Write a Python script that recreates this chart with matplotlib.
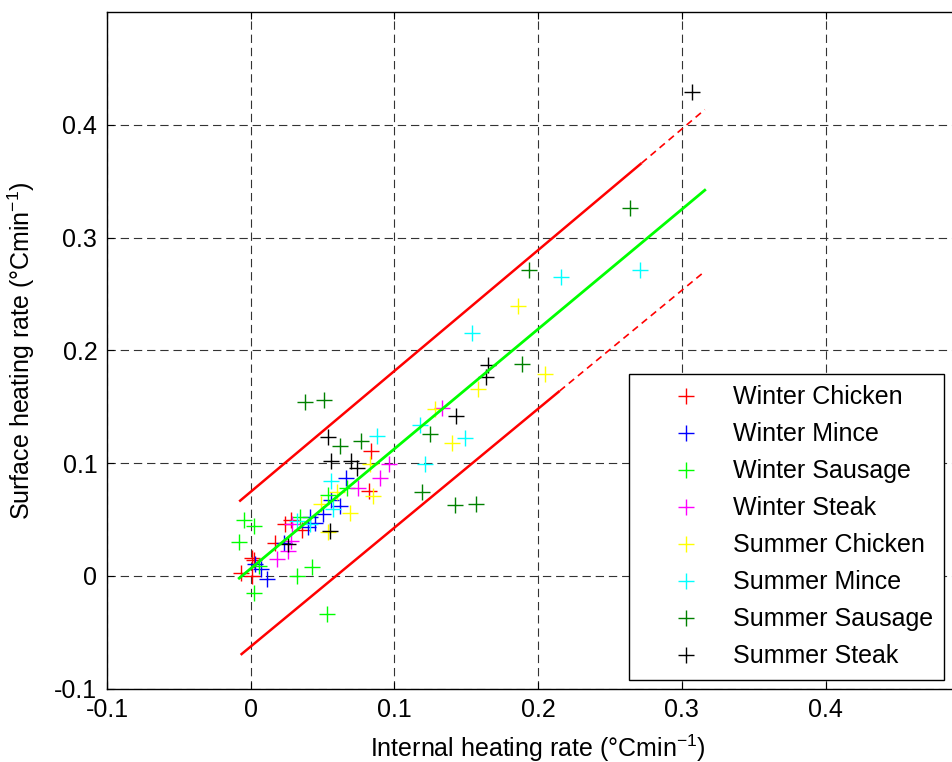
# heating rate scatter: surface vs internal, with regression line and bounds

import matplotlib
matplotlib.use('Agg')
import matplotlib.pyplot as plt

plt.rcParams['font.family'] = ['Liberation Sans', 'DejaVu Sans']
plt.rcParams['font.size'] = 18
plt.rcParams['axes.unicode_minus'] = False
plt.rcParams['mathtext.default'] = 'regular'
plt.rcParams['lines.scale_dashes'] = False

# measured heating rates (degC/min), internal (x) vs surface (y)
winter_chicken_x = [0.084, 0.082, 0.024, 0.028, 0.017, 0.002, -0.007, 0.001, 0.036, 0.001]
winter_chicken_y = [0.111, 0.075, 0.046, 0.050, 0.029, 0.014, 0.003, 0.000, 0.041, 0.016]

winter_mince_x = [0.066, 0.062, 0.056, 0.041, 0.045, 0.040, 0.023, 0.003, 0.007, 0.011, 0.050]
winter_mince_y = [0.087, 0.062, 0.067, 0.052, 0.047, 0.043, 0.029, 0.011, 0.006, -0.003, 0.055]

winter_sausage_x = [-0.005, 0.002, -0.008, 0.002, 0.032, 0.043, 0.053, 0.034, 0.054, 0.067, 0.006]
winter_sausage_y = [0.050, 0.044, 0.030, -0.015, 0.000, 0.008, -0.034, 0.052, 0.072, 0.078, 0.009]

winter_steak_x = [0.096, 0.090, 0.075, 0.133, 0.028, 0.026, 0.018, 0.029]
winter_steak_y = [0.099, 0.087, 0.078, 0.149, 0.031, 0.022, 0.015, 0.046]

summer_chicken_x = [0.186, 0.205, 0.158, 0.128, 0.140, 0.083, 0.085, 0.049, 0.069, 0.054, 0.060]
summer_chicken_y = [0.239, 0.179, 0.166, 0.148, 0.118, 0.099, 0.071, 0.064, 0.056, 0.039, 0.074]

summer_mince_x = [0.271, 0.216, 0.154, 0.118, 0.149, 0.121, 0.088, 0.056, 0.057, 0.041, 0.032]
summer_mince_y = [0.271, 0.265, 0.215, 0.134, 0.122, 0.099, 0.124, 0.084, 0.059, 0.046, 0.049]

summer_sausage_x = [0.264, 0.194, 0.189, 0.125, 0.119, 0.142, 0.157, 0.038, 0.051, 0.062, 0.077]
summer_sausage_y = [0.326, 0.271, 0.188, 0.126, 0.074, 0.063, 0.064, 0.154, 0.156, 0.115, 0.120]

summer_steak_x = [0.307, 0.165, 0.164, 0.143, 0.054, 0.056, 0.070, 0.074, 0.055, 0.026]
summer_steak_y = [0.429, 0.187, 0.176, 0.142, 0.123, 0.102, 0.102, 0.096, 0.040, 0.028]

labels = ['Winter Chicken', 'Winter Mince', 'Winter Sausage', 'Winter Steak',
          'Summer Chicken', 'Summer Mince', 'Summer Sausage', 'Summer Steak']

# regression line and prediction bounds: start, end of solid part, end
fit_x = [-0.008, 0.316]
fit_y = [-0.002, 0.342]
upper_x = [-0.008, 0.272, 0.316]
upper_y = [0.066, 0.366, 0.4135]
lower_x = [-0.007, 0.215, 0.316]
lower_y = [-0.070, 0.164, 0.270]

series = [(winter_chicken_x, winter_chicken_y), (winter_mince_x, winter_mince_y),
          (winter_sausage_x, winter_sausage_y), (winter_steak_x, winter_steak_y),
          (summer_chicken_x, summer_chicken_y), (summer_mince_x, summer_mince_y),
          (summer_sausage_x, summer_sausage_y), (summer_steak_x, summer_steak_y)]
colors = ['#ff0000', '#0000ff', '#00ff00', '#ff00ff',
          '#ffff00', '#00ffff', '#008000', '#000000']

fig = plt.figure(figsize=(9.52, 7.62), dpi=100)
ax = fig.add_axes([107 / 952, 73.3 / 762, 862.2 / 952, 676.7 / 762])

for (xs, ys), c, lab in zip(series, colors, labels):
    ax.plot(xs, ys, '+', color=c, ms=11.5, mew=1.0, linestyle='none', label=lab)

# bounds: solid where points are dense, dashed towards the end
ax.plot(upper_x[:2], upper_y[:2], color='#ff0000', lw=1.8, solid_capstyle='butt')
ax.plot(upper_x[1:], upper_y[1:], color='#ff0000', lw=1.2, dashes=(5, 3.5))
ax.plot(lower_x[:2], lower_y[:2], color='#ff0000', lw=1.8, solid_capstyle='butt')
ax.plot(lower_x[1:], lower_y[1:], color='#ff0000', lw=1.2, dashes=(5, 3.5))
ax.plot(fit_x, fit_y, color='#00ff00', lw=2.0)

ax.set_xlim(-0.1, 0.5)
ax.set_ylim(-0.1, 0.5)
ax.set_xticks([-0.1, 0, 0.1, 0.2, 0.3, 0.4])
ax.set_xticklabels(['-0.1', '0', '0.1', '0.2', '0.3', '0.4'])
ax.set_yticks([-0.1, 0, 0.1, 0.2, 0.3, 0.4])
ax.set_yticklabels(['-0.1', '0', '0.1', '0.2', '0.3', '0.4'])
ax.grid(True, color='0.2', linestyle=(0, (6, 3.5)), linewidth=0.8)
ax.tick_params(direction='in', length=5, width=0.8, top=True, right=True, pad=7)
for sp in ax.spines.values():
    sp.set_linewidth(1.0)

ax.set_xlabel('Internal heating rate (°Cmin$^{-1}$)', labelpad=7)
ax.set_ylabel('Surface heating rate (°Cmin$^{-1}$)', labelpad=12)

leg = ax.legend(loc='upper left', bbox_to_anchor=(629 / 952, 1 - 374 / 762),
                bbox_transform=fig.transFigure, borderaxespad=0, borderpad=0.45,
                handlelength=3.66, handletextpad=0.05, labelspacing=0.52,
                fancybox=False, framealpha=1, edgecolor='k')
leg.get_frame().set_linewidth(1.0)

fig.savefig('out.png', dpi=100)
